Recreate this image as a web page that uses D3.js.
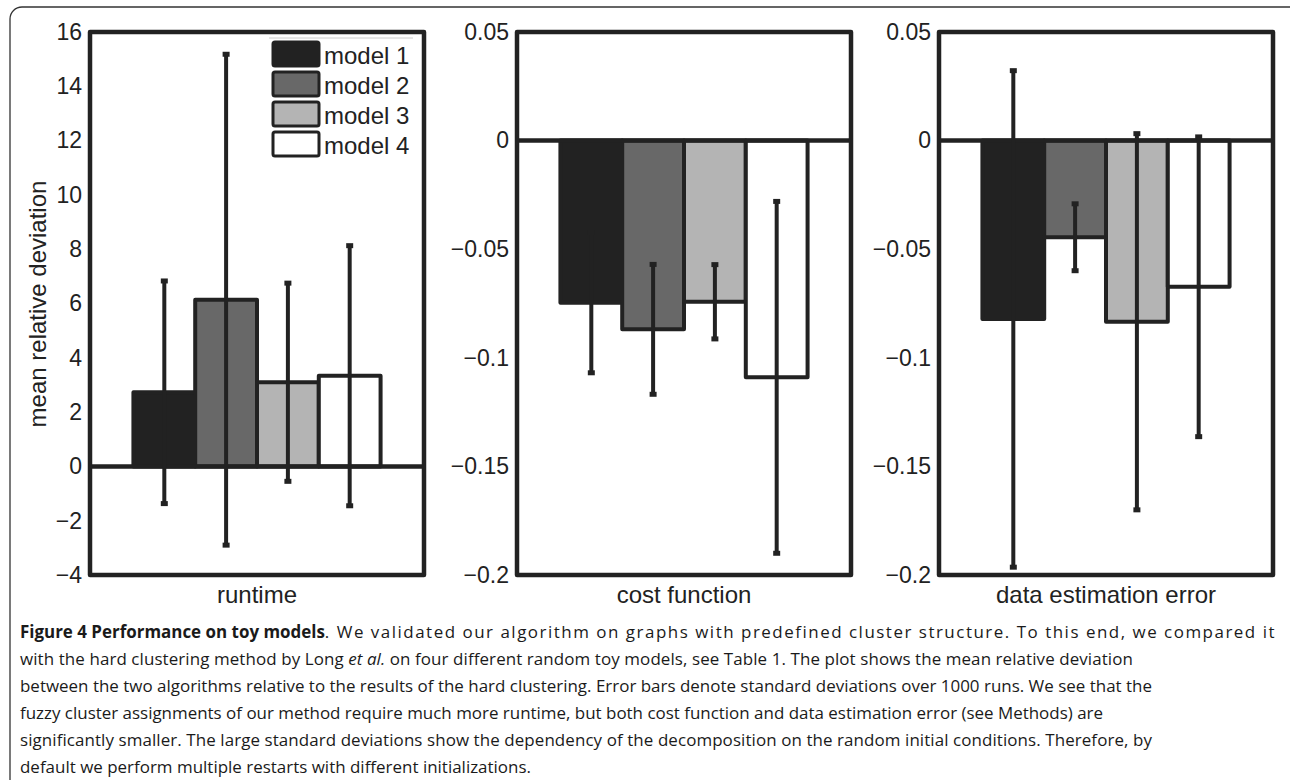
<!DOCTYPE html>
<html>
<head>
<meta charset="utf-8">
<script src="https://cdn.jsdelivr.net/npm/d3@7"></script>
<style>
  body { margin: 0; background: #fff; }
  svg { display: block; }
</style>
</head>
<body>
<script>
// values
const groups = ["runtime", "cost function", "data estimation error"]
const models = ["model 1", "model 2", "model 3", "model 4"]

const runtimeMean = [2.73, 6.14, 3.10, 3.34]
const runtimeSd = [4.10, 9.04, 3.65, 4.79]
const costMean = [-0.0746, -0.0869, -0.0742, -0.1090]
const costSd = [0.0323, 0.0299, 0.0171, 0.0810]
const estMean = [-0.0821, -0.0445, -0.0834, -0.0673]
const estSd = [0.1143, 0.0154, 0.0866, 0.0690]

const runtimeDomain = [-4, 16]
const runtimeTicks = [-4, -2, 0, 2, 4, 6, 8, 10, 12, 14, 16]
const runtimeTickLabels = ["\u22124", "\u22122", "0", "2", "4", "6", "8", "10", "12", "14", "16"]
const smallDomain = [-0.2, 0.05]
const smallTicks = [-0.2, -0.15, -0.1, -0.05, 0, 0.05]
const smallTickLabels = ["\u22120.2", "\u22120.15", "\u22120.1", "\u22120.05", "0", "0.05"]

const fills = ["#222222", "#686868", "#b4b4b4", "#ffffff"]
const ink = "#222"

const panels = [
    { label: groups[0], mean: runtimeMean, sd: runtimeSd, domain: runtimeDomain, ticks: runtimeTicks, tickLabels: runtimeTickLabels },
    { label: groups[1], mean: costMean, sd: costSd, domain: smallDomain, ticks: smallTicks, tickLabels: smallTickLabels },
    { label: groups[2], mean: estMean, sd: estSd, domain: smallDomain, ticks: smallTicks, tickLabels: smallTickLabels }
]

const W = 1290, H = 780
const lefts = [90, 517, 939], plotW = 334, plotTop = 32, plotBottom = 575
const chartFont = "'Liberation Sans', Arial, Helvetica, sans-serif"

const svg = d3.select("body").append("svg")
    .attr("width", W)
    .attr("height", H)

// outer frame of the figure box
svg.append("rect")
    .attr("x", 10).attr("y", 7)
    .attr("width", W + 10).attr("height", H + 20)
    .attr("rx", 12)
    .attr("fill", "none")
    .attr("stroke", "#333")
    .attr("stroke-width", 1.3)

panels.forEach((p, k) => {
    const g = svg.append("g")
    const x = d3.scaleLinear().domain([0.5, 1.5]).range([lefts[k], lefts[k] + plotW])
    const band = d3.scaleBand().domain(models).range([x(1 - 0.37), x(1 + 0.37)]).padding(0)
    const y = d3.scaleLinear().domain(p.domain).range([plotBottom, plotTop])

    // bars
    g.selectAll("rect.bar")
        .data(models)
        .join("rect")
        .attr("class", "bar")
        .attr("x", d => band(d))
        .attr("width", band.bandwidth())
        .attr("y", (d, i) => Math.min(y(0), y(p.mean[i])))
        .attr("height", (d, i) => Math.abs(y(p.mean[i]) - y(0)))
        .attr("fill", (d, i) => fills[i])
        .attr("stroke", ink)
        .attr("stroke-width", 4)
        .attr("stroke-linejoin", "round")

    // baseline
    g.append("line")
        .attr("x1", x(0.5)).attr("x2", x(1.5))
        .attr("y1", y(0)).attr("y2", y(0))
        .attr("stroke", ink)
        .attr("stroke-width", 4.5)

    // error bars
    const eb = g.selectAll("g.err")
        .data(models)
        .join("g")
        .attr("class", "err")
        .attr("stroke", ink)
    eb.append("line")
        .attr("x1", d => band(d) + band.bandwidth() / 2)
        .attr("x2", d => band(d) + band.bandwidth() / 2)
        .attr("y1", (d, i) => y(p.mean[i] - p.sd[i]))
        .attr("y2", (d, i) => y(p.mean[i] + p.sd[i]))
        .attr("stroke-width", 4)
    eb.selectAll("line.cap")
        .data((d, i) => [p.mean[i] - p.sd[i], p.mean[i] + p.sd[i]].map(v => ({ m: d, v })))
        .join("line")
        .attr("class", "cap")
        .attr("x1", d => band(d.m) + band.bandwidth() / 2 - 3.5)
        .attr("x2", d => band(d.m) + band.bandwidth() / 2 + 3.5)
        .attr("y1", d => y(d.v))
        .attr("y2", d => y(d.v))
        .attr("stroke-width", 5)

    // y axis labels, no tick marks
    const ax = g.append("g")
        .attr("transform", `translate(${lefts[k]},0)`)
        .call(d3.axisLeft(y).tickValues(p.ticks).tickFormat((d, i) => p.tickLabels[i]).tickSize(0).tickPadding(8))
    ax.select(".domain").remove()
    ax.selectAll("text")
        .attr("font-family", chartFont)
        .attr("font-size", 23)
        .attr("fill", ink)

    // axes box
    g.append("rect")
        .attr("x", lefts[k]).attr("y", plotTop)
        .attr("width", plotW).attr("height", plotBottom - plotTop)
        .attr("fill", "none")
        .attr("stroke", ink)
        .attr("stroke-width", 4.5)
        .attr("stroke-linejoin", "round")

    g.append("text")
        .attr("x", lefts[k] + plotW / 2)
        .attr("y", 603)
        .attr("text-anchor", "middle")
        .attr("font-family", chartFont)
        .attr("font-size", 24)
        .attr("fill", ink)
        .text(p.label)
})

svg.append("text")
    .attr("transform", "translate(46,304) rotate(-90)")
    .attr("text-anchor", "middle")
    .attr("font-family", chartFont)
    .attr("font-size", 24)
    .attr("fill", ink)
    .text("mean relative deviation")

// legend
const legend = svg.append("g")
legend.append("line")
    .attr("x1", 269).attr("x2", 413)
    .attr("y1", 38).attr("y2", 38)
    .attr("stroke", "#ccc")
    .attr("stroke-width", 1)
const rows = legend.selectAll("g.row")
    .data(models)
    .join("g")
    .attr("class", "row")
    .attr("transform", (d, i) => `translate(0,${42 + i * 30})`)
rows.append("rect")
    .attr("x", 273).attr("y", 0)
    .attr("width", 46).attr("height", 24)
    .attr("rx", 2)
    .attr("fill", (d, i) => fills[i])
    .attr("stroke", ink)
    .attr("stroke-width", 3)
rows.append("text")
    .attr("x", 324).attr("y", 13)
    .attr("dominant-baseline", "central")
    .attr("font-family", chartFont)
    .attr("font-size", 24)
    .attr("fill", ink)
    .text(d => d)

// caption
const caption = [
    [["b", "Figure 4 Performance on toy models"], ["", ". We validated our algorithm on graphs with predefined cluster structure. To this end, we compared it"]],
    [["", "with the hard clustering method by Long "], ["i", "et al."], ["", " on four different random toy models, see Table 1. The plot shows the mean relative deviation"]],
    [["", "between the two algorithms relative to the results of the hard clustering. Error bars denote standard deviations over 1000 runs. We see that the"]],
    [["", "fuzzy cluster assignments of our method require much more runtime, but both cost function and data estimation error (see Methods) are"]],
    [["", "significantly smaller. The large standard deviations show the dependency of the decomposition on the random initial conditions. Therefore, by"]],
    [["", "default we perform multiple restarts with different initializations."]]
]
// right end of each caption line in the original
const captionEnds = [1276, 1133, 1152, 1103, 1152, 531]

const cap = svg.append("g")
    .attr("font-family", "'Open Sans', 'Noto Sans', sans-serif")
    .attr("fill", "#1a1a1a")
const lines = cap.selectAll("text")
    .data(caption)
    .join("text")
    .attr("x", 20)
    .attr("y", (d, i) => 637.5 + i * 27.1)
    .attr("font-size", 17)
lines.selectAll("tspan")
    .data(d => d)
    .join("tspan")
    .attr("font-weight", d => d[0] === "b" ? "bold" : null)
    .attr("font-style", d => d[0] === "i" ? "italic" : null)
    .text(d => d[1])

// font size from a plain line, then spread the non-bold runs to the original length
const measured = lines.nodes()[2].getComputedTextLength()
const fs = 17 * (1152 - 20) / measured
lines.attr("font-size", fs)
lines.each(function (d, i) {
    const len = this.getComputedTextLength()
    const spans = d3.select(this).selectAll("tspan").filter(t => t[0] !== "b")
    const n = d3.sum(spans.data(), t => t[1].length)
    spans.attr("letter-spacing", ((captionEnds[i] - 20) - len) / n)
})
</script>
</body>
</html>
